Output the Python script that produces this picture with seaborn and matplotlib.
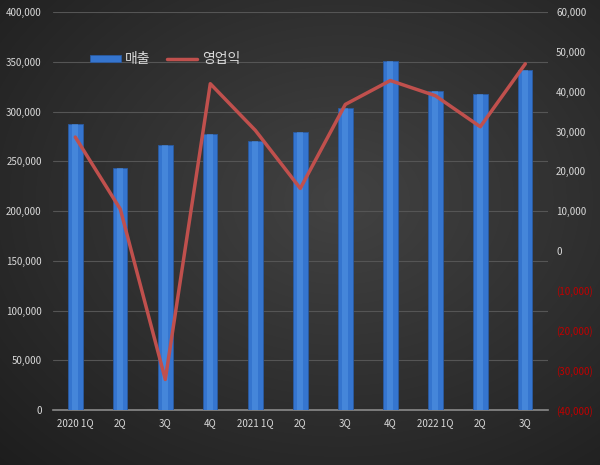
import numpy as np
import pandas as pd
import matplotlib
matplotlib.use('Agg')
import matplotlib.pyplot as plt
import seaborn as sns
from matplotlib.ticker import FuncFormatter

quarters = ['2020 1Q', '2020 2Q', '2020 3Q', '2020 4Q',
            '2021 1Q', '2021 2Q', '2021 3Q', '2021 4Q',
            '2022 1Q', '2022 2Q', '2022 3Q']
tick_labels = ['2020 1Q', '2Q', '3Q', '4Q', '2021 1Q', '2Q', '3Q', '4Q', '2022 1Q', '2Q', '3Q']
sales = [288000, 243000, 266500, 277000, 270000, 279500, 304000, 350500, 321000, 317500, 342000]
op_profit = [28600, 10500, -32300, 42000, 30300, 15700, 36800, 42800, 39000, 31200, 47000]

df = pd.DataFrame({'quarter': quarters, 'sales': sales, 'op': op_profit})

sns.set_style('dark')
plt.rcParams['font.family'] = ['Noto Sans CJK KR', 'DejaVu Sans']
txt = '#d9d9d9'

fig = plt.figure(figsize=(6, 4.65), dpi=100)

# dark radial background
yy, xx = np.mgrid[0:465, 0:600]
r = np.sqrt(((xx - 340) / 600.0) ** 2 + ((yy - 200) / 465.0) ** 2)
shade = np.clip(0.26 - 0.18 * r, 0.11, 0.27)
bg = np.dstack([shade, shade, shade])
fig.figimage(bg, 0, 0, zorder=-10)

ax = fig.add_axes([0.088, 0.118, 0.825, 0.856])
ax.set_facecolor('none')
ax.patch.set_alpha(0)

sns.barplot(data=df, x='quarter', y='sales', color='#3575cf', width=0.32,
            saturation=1, ax=ax, label='매출', zorder=3,
            edgecolor='#2a5aa0', linewidth=0.6)
# lighter sheen in the middle of each bar
sns.barplot(data=df, x='quarter', y='sales', color='#5a9be8', width=0.14,
            saturation=1, ax=ax, zorder=3.5, alpha=0.45, linewidth=0)
ax.set_ylim(0, 400000)
ax.set_yticks(np.arange(0, 400001, 50000))
ax.yaxis.set_major_formatter(FuncFormatter(lambda v, p: f'{int(v):,}'))
ax.set_xlim(-0.5, len(quarters) - 0.5)
ax.set_xticks(range(len(quarters)))
ax.set_xticklabels(tick_labels)
ax.set_xlabel('')
ax.set_ylabel('')
ax.grid(axis='y', color='#555555', linewidth=0.8, zorder=0)
ax.grid(axis='x', visible=False)
for s in ['top', 'right', 'left']:
    ax.spines[s].set_visible(False)
ax.spines['bottom'].set_color('#8a8a8a')
ax.spines['bottom'].set_linewidth(1.2)
ax.tick_params(axis='both', colors=txt, labelsize=7, length=0, pad=8)
ax.tick_params(axis='x', pad=6)

ax2 = ax.twinx()
sns.lineplot(data=df, x='quarter', y='op', color='#c0504d', linewidth=2.5,
             ax=ax2, label='영업익', sort=False, zorder=4)
ax2.set_ylim(-40000, 60000)
ax2.set_yticks(np.arange(-40000, 60001, 10000))
ax2.yaxis.set_major_formatter(FuncFormatter(
    lambda v, p: f'({abs(int(v)):,})' if v < 0 else f'{int(v):,}'))
ax2.set_ylabel('')
ax2.grid(False)
for s in ax2.spines.values():
    s.set_visible(False)
ax2.tick_params(axis='y', colors=txt, labelsize=7, length=0, pad=6)
for lbl, v in zip(ax2.get_yticklabels(), ax2.get_yticks()):
    if v < 0:
        lbl.set_color('#c00000')
ax2.get_legend().remove()

h1, l1 = ax.get_legend_handles_labels()
h2, l2 = ax2.get_legend_handles_labels()
leg = ax.legend(h1[:1] + h2, l1[:1] + l2, loc='upper left', bbox_to_anchor=(0.05, 0.93),
                ncol=2, frameon=False, fontsize=10, labelcolor=txt,
                handlelength=2.2, handleheight=0.4, columnspacing=1.2, handletextpad=0.3)

fig.savefig('out.png', dpi=100, facecolor='#2a2a2a')
